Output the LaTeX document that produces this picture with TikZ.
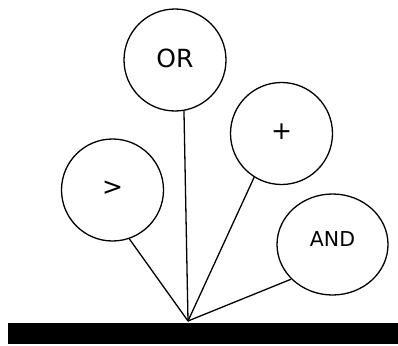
\documentclass[tikz,border=0pt]{standalone}
\usepackage{fontspec}
\setmainfont{DejaVu Sans}
\usetikzlibrary{shapes.geometric}

\begin{document}
\begin{tikzpicture}[x=1pt,y=-1pt,line width=1.3pt]
            \def \radius {102pt}
            \useasboundingbox (0,0) rectangle (398,345);
            \fill (8,323) rectangle (398,344);
            \coordinate (apex) at (188,321);
            \foreach \s/\A/\X/\Y/\ang in {or/OR/175/60/-80,plus/+/281.5/133.5/-122,gt/>/112.5/190/-71}
            {
              \node[draw, circle, minimum size=\radius, inner sep=0pt, text depth=4pt, font=\fontsize{25}{25}\selectfont] (\s) at (\X,\Y) {\A};
              \draw (apex) -- (\s.\ang);
            }
            \node[draw, ellipse, minimum width=111pt, minimum height=101pt, inner sep=0pt, text depth=11pt, font=\fontsize{20.5}{20.5}\selectfont] (and) at (332.5,244.5) {AND};
            \draw (apex) -- (and.-140);
            \end{tikzpicture}
\end{document}
